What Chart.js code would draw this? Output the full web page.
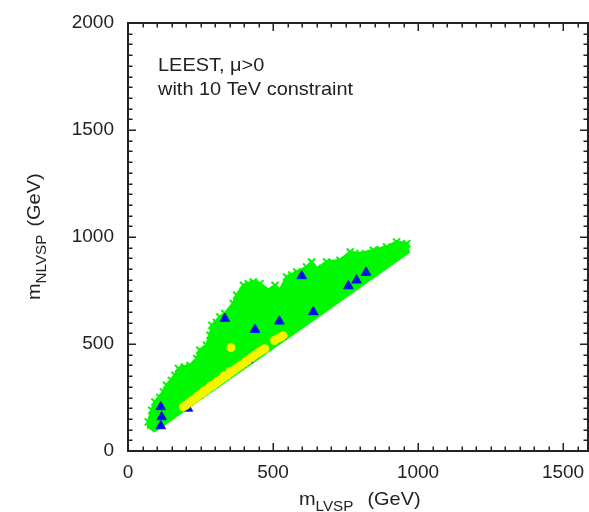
<!DOCTYPE html>
<html>
<head>
<meta charset="utf-8">
<script src="https://cdn.jsdelivr.net/npm/chart.js@4/dist/chart.umd.min.js"></script>
<style>
  html, body { margin: 0; padding: 0; background: #ffffff; }
  canvas { display: block; }
</style>
</head>
<body>
<canvas id="c" width="589" height="512"></canvas>
<script>
// ---- data ----
// outline of the dense green cloud (upper fringe left->right, then lower edge right->left)
const greenEdgeX = [70, 70, 82, 93, 122, 133, 162, 174, 214, 237, 248, 271, 283, 289, 317, 334, 363, 375, 398, 432, 455, 484, 507, 524, 547, 582, 616, 633, 651, 685, 731, 766, 800, 846, 892, 926, 961, 967,
                    900, 800, 700, 600, 500, 400, 300, 200, 150, 100, 85];
const greenEdgeY = [105, 136, 190, 229, 276, 307, 354, 385, 400, 432, 471, 494, 541, 587, 626, 642, 689, 728, 774, 790, 782, 751, 774, 751, 813, 836, 860, 883, 852, 883, 891, 930, 922, 938, 953, 977, 969, 930,
                    866, 770, 674, 578, 483, 388, 293, 197, 150, 102, 92];
// individual green crosses visible on the fringe
const greenCrossX = [70, 82, 93, 110, 122, 133, 150, 162, 174, 195, 214, 237, 248, 271, 283, 289, 305, 317, 334, 363, 375, 398, 415, 432, 455, 484, 507, 524, 547, 565, 582, 616, 633, 651, 685, 710, 731, 766, 800, 846, 870, 892, 926, 945, 961];
const greenCrossY = [136, 190, 229, 250, 276, 307, 330, 354, 385, 392, 400, 432, 471, 494, 541, 587, 600, 626, 642, 689, 728, 774, 782, 790, 782, 751, 774, 751, 813, 822, 836, 860, 883, 852, 883, 875, 891, 930, 922, 938, 940, 953, 977, 955, 969];
// yellow points
const yellowX = [191, 200, 210, 222, 234, 246, 258, 270, 282, 294, 306, 318, 330, 342, 354, 366, 378, 390, 402, 414, 426, 438, 450, 462, 472, 355, 505, 515, 525, 535,
                 240, 262, 285, 308, 330, 352];
const yellowY = [206, 214, 225, 236, 248, 262, 272, 284, 297, 308, 320, 332, 343, 354, 366, 378, 390, 402, 413, 425, 437, 449, 460, 470, 478, 483, 516, 524, 532, 538,
                 256, 280, 304, 326, 350, 372];
// blue triangles partly hidden under the yellow points
const blueHiddenX = [208, 415, 508, 532];
const blueHiddenY = [198, 424, 518, 534];
// blue triangles
const blueX = [113, 116, 113, 334, 438, 522, 599, 639, 760, 788, 821];
const blueY = [206, 159, 117, 619, 567, 606, 818, 650, 771, 798, 834];
// axes
const xMin = 0, xMax = 1586, xStep = 500, xMinor = 50;
const yMin = 0, yMax = 2000, yStep = 500, yMinor = 50;
const xTickValues = [0, 500, 1000, 1500];
const yTickValues = [0, 500, 1000, 1500, 2000];
const xTitleMain = "m", xTitleSub = "LVSP", xTitleUnit = "(GeV)";
const yTitleMain = "m", yTitleSub = "NLVSP", yTitleUnit = "(GeV)";
const noteLines = ["LEEST, \u03bc>0", "with 10 TeV constraint"];

const toPts = (xs, ys) => xs.map((x, i) => ({ x: x, y: ys[i] }));

const FONT = '"Liberation Sans", Arial, Helvetica, sans-serif';
const TXT = '#222222';
const GREEN = '#00f800';

function drawText(ctx, s, x, y, size, sx) {
  ctx.save();
  ctx.translate(x, y);
  ctx.scale(sx, 1);
  ctx.font = size + 'px ' + FONT;
  ctx.fillText(s, 0, 0);
  const w = ctx.measureText(s).width * sx;
  ctx.restore();
  return w;
}

const framePlugin = {
  id: 'frame',
  afterDraw(chart) {
    const ctx = chart.ctx;
    const a = chart.chartArea;
    const xs = chart.scales.x, ys = chart.scales.y;
    ctx.save();
    ctx.strokeStyle = TXT;
    // ticks pointing inward on all four sides
    ctx.lineWidth = 1.5;
    ctx.beginPath();
    for (let v = xMin; v <= xMax; v += xMinor) {
      const p = Math.round(xs.getPixelForValue(v)) + 0.25;
      const len = (v % xStep === 0) ? 8 : 4.5;
      ctx.moveTo(p, a.bottom); ctx.lineTo(p, a.bottom - len);
      ctx.moveTo(p, a.top); ctx.lineTo(p, a.top + len);
    }
    for (let v = yMin; v <= yMax; v += yMinor) {
      const p = Math.round(ys.getPixelForValue(v)) + 0.25;
      const len = (v % yStep === 0) ? 8 : 4.5;
      ctx.moveTo(a.left, p); ctx.lineTo(a.left + len, p);
      ctx.moveTo(a.right, p); ctx.lineTo(a.right - len, p);
    }
    ctx.stroke();
    // frame
    ctx.lineWidth = 2;
    ctx.strokeRect(a.left, a.top, a.right - a.left, a.bottom - a.top);

    ctx.fillStyle = TXT;
    ctx.textBaseline = 'alphabetic';
    ctx.textAlign = 'left';
    // annotation
    drawText(ctx, noteLines[0], 158, 71, 19, 1.05);
    drawText(ctx, noteLines[1], 158, 95, 19, 1.05);

    // x title
    let x = 299;
    x += drawText(ctx, xTitleMain, x, 505, 19, 1.05);
    x += drawText(ctx, xTitleSub, x, 511, 14.5, 1.05);
    x += 14;
    drawText(ctx, xTitleUnit, x, 505, 19, 1.05);

    // y title (rotated)
    ctx.save();
    ctx.translate(40, 300);
    ctx.rotate(-Math.PI / 2);
    let t = 0;
    t += drawText(ctx, yTitleMain, t, 0, 19, 1.05);
    t += drawText(ctx, yTitleSub, t, 6, 14.5, 1.05);
    t += 8;
    drawText(ctx, yTitleUnit, t, 0, 19, 1.05);
    ctx.restore();
    ctx.restore();
  }
};

new Chart(document.getElementById('c'), {
  type: 'scatter',
  data: {
    datasets: [
      { label: 'blue', data: toPts(blueX, blueY), pointStyle: 'triangle', pointRadius: 5.5,
        backgroundColor: '#0010e8', borderColor: '#0010e8', borderWidth: 1, order: 1 },
      { label: 'yellow', data: toPts(yellowX, yellowY), pointStyle: 'circle', pointRadius: 4.5,
        backgroundColor: '#f4f400', borderColor: '#f4f400', borderWidth: 0, order: 2 },
      { label: 'blueHidden', data: toPts(blueHiddenX, blueHiddenY), pointStyle: 'triangle', pointRadius: 5,
        backgroundColor: '#0010e8', borderColor: '#0010e8', borderWidth: 1, order: 3 },
      { label: 'greenCross', data: toPts(greenCrossX, greenCrossY), pointStyle: 'crossRot', pointRadius: 5,
        borderColor: GREEN, backgroundColor: GREEN, borderWidth: 2, order: 4 },
      { label: 'greenArea', data: toPts(greenEdgeX, greenEdgeY), showLine: true, fill: 'shape',
        pointRadius: 0, borderColor: GREEN, backgroundColor: GREEN, borderWidth: 3, tension: 0, order: 5 }
    ]
  },
  options: {
    responsive: false,
    animation: false,
    devicePixelRatio: 1,
    layout: { autoPadding: false, padding: { top: 23, right: 1, left: 0, bottom: 0 } },
    plugins: { legend: { display: false }, tooltip: { enabled: false } },
    scales: {
      x: {
        type: 'linear', min: xMin, max: xMax,
        grid: { display: false, drawTicks: false },
        border: { display: false },
        ticks: { padding: 10, color: TXT, maxRotation: 0, autoSkip: false,
                 callback: (v) => String(v),
                 font: { family: FONT, size: 19 } },
        afterBuildTicks: (s) => { s.ticks = xTickValues.map(v => ({ value: v })); },
        afterFit: (s) => { s.height = 61; s.paddingLeft = 0; s.paddingRight = 0; }
      },
      y: {
        type: 'linear', min: yMin, max: yMax,
        grid: { display: false, drawTicks: false },
        border: { display: false },
        ticks: { padding: 14, color: TXT, autoSkip: false,
                 callback: (v) => String(v),
                 font: { family: FONT, size: 19 } },
        afterBuildTicks: (s) => { s.ticks = yTickValues.map(v => ({ value: v })); },
        afterFit: (s) => { s.width = 128; s.paddingTop = 0; s.paddingBottom = 0; }
      }
    }
  },
  plugins: [framePlugin]
});
</script>
</body>
</html>
